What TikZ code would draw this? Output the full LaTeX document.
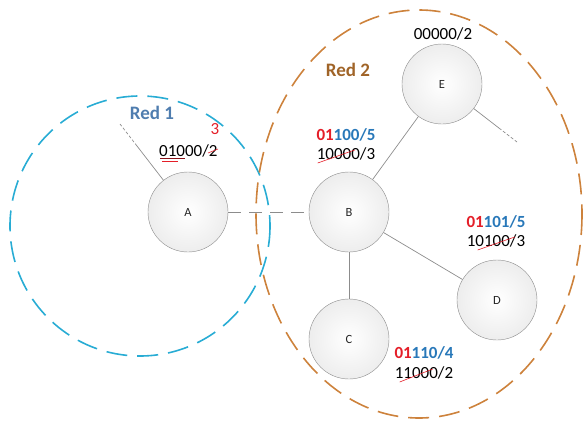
\documentclass[tikz,border=0pt]{standalone}
\usepackage{fontspec}
\setmainfont{Carlito}
\usetikzlibrary{calc}
\definecolor{zoneblue}{RGB}{40,172,212}
\definecolor{zoneorange}{RGB}{205,130,60}
\definecolor{redone}{RGB}{79,125,175}
\definecolor{redtwo}{RGB}{160,100,40}
\definecolor{pfxred}{RGB}{228,30,40}
\definecolor{pfxblue}{RGB}{40,120,185}
\definecolor{edge}{RGB}{140,140,140}
\begin{document}
\begin{tikzpicture}[x=1pt,y=-1pt,
    site/.style={circle,draw=edge,inner color=white,outer color=black!7,minimum size=80pt,inner sep=0pt,font=\fontsize{12.5}{14}\selectfont,text=black!85},
    link/.style={draw=edge,line width=0.7pt},
    zone/.style={line width=1.6pt,dash pattern=on 21pt off 10pt},
    lbl/.style={anchor=base,inner sep=0pt,font=\fontsize{17}{20}\selectfont},
    pfx/.style={lbl,font=\fontsize{17}{20}\selectfont\bfseries},
    area/.style={anchor=base,inner sep=0pt,font=\fontsize{19}{22}\selectfont\bfseries},
    fix/.style={draw=pfxred,line width=0.6pt}]
  \useasboundingbox (0,0) rectangle (583,423);
  % the two areas
  \draw[zone,zoneblue] (140,226) circle[radius=130];
  \draw[zone,zoneorange] (419,214) ellipse[x radius=163,y radius=204];
  \node[area,text=redone] (red1) at (152,119) {Red 1};
  \node[area,text=redtwo] (red2) at (348,76) {Red 2};
  % routers
  \node[site] (A) at (188,212) {A};
  \node[site] (B) at (349,212) {B};
  \node[site] (C) at (349,339) {C};
  \node[site] (D) at (497,300) {D};
  \node[site] (E) at (442,84) {E};
  \draw[link,dash pattern=on 13pt off 8pt] (A) -- (B);
  \draw[link] (B) -- (C);
  \draw[link] (B) -- (D);
  \draw[link] (B) -- (E);
  % links leaving the picture
  \coordinate (a-tail) at (120,124);
  \coordinate (e-tail) at (517,142);
  \coordinate (a-cut) at ($(A)!0.75!(a-tail)$);
  \coordinate (e-cut) at ($(E)!0.76!(e-tail)$);
  \draw[link] (A) -- (a-cut);
  \draw[link,dash pattern=on 3pt off 2pt] (a-cut) -- (a-tail);
  \draw[link] (E) -- (e-cut);
  \draw[link,dash pattern=on 3pt off 2pt] (e-cut) -- (e-tail);
  % addresses
  \node[lbl] (e-old) at (443,39) {00000/2};
  \node[lbl,anchor=base west] (a-old) at (159,156) {01000/2};
  \node[lbl,text=pfxred] (a-new) at ($(a-old.base west)+(56,-22)$) {3};
  \draw[fix] ($(a-old.base west)+(49,-3)$) -- ($(a-old.base west)+(59,-7)$);
  \draw[fix,draw=pfxred!60!black] ($(a-old.base west)+(1,2.5)$) -- +(25,0);
  \draw[fix] ($(a-old.base west)+(3,5)$) -- +(16,0);
  \node[pfx] (b-new) at (346,140) {\textcolor{pfxred}{01}\textcolor{pfxblue}{100/5}};
  \node[lbl] (b-old) at (346,159) {10000/3};
  \draw[fix] ($(b-old.base west)+(1,4)$) -- ($(b-old.base west)+(38,-9)$);
  \node[pfx] (d-new) at (496,227) {\textcolor{pfxred}{01}\textcolor{pfxblue}{101/5}};
  \node[lbl] (d-old) at (496,246) {10100/3};
  \draw[fix] ($(d-old.base west)+(11,4)$) -- ($(d-old.base west)+(48,-9)$);
  \node[pfx] (c-new) at (424,358) {\textcolor{pfxred}{01}\textcolor{pfxblue}{110/4}};
  \node[lbl] (c-old) at (424,378) {11000/2};
  \draw[fix] ($(c-old.base west)+(5,4)$) -- ($(c-old.base west)+(38,-9)$);
\end{tikzpicture}
\end{document}
